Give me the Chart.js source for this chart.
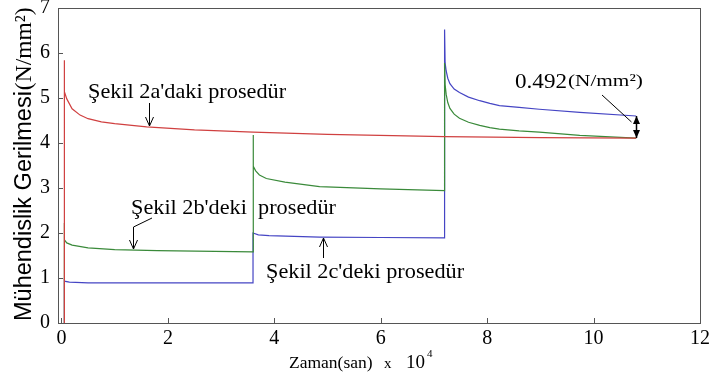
<!DOCTYPE html>
<html>
<head>
<meta charset="utf-8">
<script src="https://cdn.jsdelivr.net/npm/chart.js@4/dist/chart.umd.min.js"></script>
<style>
  body { margin: 0; background: #fff; }
</style>
</head>
<body>
<canvas id="stressChart" width="713" height="383"></canvas>
<script>
// time in units of 10^4 s, stress in N/mm2
const xTicks = [0, 2, 4, 6, 8, 10, 12];
const yTicks = [0, 1, 2, 3, 4, 5, 6, 7];

const timeRed = [0.05, 0.05, 0.06, 0.1, 0.2, 0.35, 0.5, 0.75, 1, 1.6, 2.5, 3.6, 5, 7.2, 9, 10.8];
const stressRed = [0, 5.84, 5.14, 4.98, 4.76, 4.62, 4.54, 4.47, 4.43, 4.36, 4.29, 4.24, 4.19, 4.14, 4.12, 4.11];

const timeGreen = [0.05, 0.05, 0.06, 0.1, 0.2, 0.5, 1, 1.8, 3.6, 3.6, 3.61, 3.65, 3.72, 3.85, 4.2, 4.85, 6, 7.2,
	7.2, 7.21, 7.23, 7.26, 7.3, 7.38, 7.48, 7.65, 7.86, 8.05, 8.23, 8.6, 8.98, 9.74, 10.8];
const stressGreen = [0, 2.22, 1.85, 1.78, 1.73, 1.67, 1.63, 1.61, 1.58, 4.18, 3.48, 3.38, 3.29, 3.21, 3.13, 3.03, 2.98, 2.94,
	5.78, 5.3, 5.08, 4.9, 4.77, 4.64, 4.55, 4.46, 4.39, 4.34, 4.31, 4.27, 4.24, 4.17, 4.11];

const timeBlue = [0.05, 0.05, 0.06, 0.15, 0.5, 1.5, 3.6, 3.6, 3.7, 3.9, 4.85, 6, 7.2,
	7.2, 7.21, 7.23, 7.26, 7.3, 7.38, 7.48, 7.65, 7.86, 8.05, 8.23, 8.6, 8.98, 9.74, 10.8];
const stressBlue = [0, 1.0, 0.93, 0.91, 0.89, 0.89, 0.89, 2.0, 1.96, 1.94, 1.91, 1.9, 1.89,
	6.52, 5.78, 5.6, 5.44, 5.32, 5.2, 5.12, 5.02, 4.94, 4.88, 4.83, 4.79, 4.75, 4.68, 4.6];

const toPoints = (xs, ys) => xs.map((x, i) => ({ x: x, y: ys[i] }));

const serif = "'Liberation Serif', 'Times New Roman', serif";
const sans = "'Liberation Sans', Arial, sans-serif";

// the scanned figure is a little wider than normal type
function wideText(ctx, text, x, y, sx) {
	ctx.save();
	ctx.translate(x, y);
	ctx.scale(sx, 1);
	ctx.fillText(text, 0, 0);
	ctx.restore();
}

function arrowHead(ctx, x, y, dir) {
	// open V head, dir = 1 points down, -1 points up
	ctx.beginPath();
	ctx.moveTo(x - 4, y - 9 * dir);
	ctx.lineTo(x, y);
	ctx.lineTo(x + 4, y - 9 * dir);
	ctx.stroke();
}

const decorations = {
	id: "decorations",
	afterDraw(chart) {
		const ctx = chart.ctx;
		const a = chart.chartArea;
		const xs = chart.scales.x;
		const ys = chart.scales.y;
		ctx.save();

		// frame
		ctx.strokeStyle = "#555";
		ctx.lineWidth = 1;
		ctx.strokeRect(Math.round(a.left) + 0.5, Math.round(a.top) + 0.5, Math.round(a.right - a.left), Math.round(a.bottom - a.top));

		// inward ticks
		ctx.beginPath();
		xTicks.forEach((t) => {
			const px = Math.round(xs.getPixelForValue(t)) + 0.5;
			ctx.moveTo(px, a.bottom);
			ctx.lineTo(px, a.bottom - 5);
		});
		yTicks.forEach((t) => {
			const py = Math.round(ys.getPixelForValue(t)) + 0.5;
			ctx.moveTo(a.left, py);
			ctx.lineTo(a.left + 5, py);
		});
		ctx.stroke();

		ctx.fillStyle = "#000";
		ctx.textBaseline = "alphabetic";
		ctx.textAlign = "left";

		// x axis title
		ctx.font = "17.5px " + serif;
		wideText(ctx, "Zaman(san)", 289, 368, 1.0);
		ctx.font = "15px " + serif;
		ctx.fillText("x", 384, 368);
		ctx.font = "19px " + serif;
		ctx.fillText("10", 406, 368);
		ctx.font = "11px " + serif;
		ctx.fillText("4", 427, 357);

		// y axis title
		ctx.save();
		ctx.translate(31, 321);
		ctx.rotate(-Math.PI / 2);
		ctx.font = "23.5px " + sans;
		const part1 = "Mühendislik Gerilmesi";
		ctx.fillText(part1, 0, 0);
		const w1 = ctx.measureText(part1).width;
		ctx.font = "23.5px " + serif;
		ctx.fillText("(N/mm²)", w1 + 1, 0);
		ctx.restore();

		// annotations
		ctx.font = "21px " + serif;
		wideText(ctx, "Şekil 2a'daki prosedür", 88, 98, 1.06);
		wideText(ctx, "Şekil 2b'deki  prosedür", 131, 214, 1.06);
		wideText(ctx, "Şekil 2c'deki prosedür", 266, 278, 1.06);
		ctx.font = "22px " + serif;
		wideText(ctx, "0.492", 515, 88, 1.05);
		ctx.font = "17px " + serif;
		wideText(ctx, "(N/mm²)", 568, 86, 1.25);

		ctx.strokeStyle = "#000";
		ctx.lineWidth = 1;
		// 2a arrow
		ctx.beginPath();
		ctx.moveTo(149.5, 103);
		ctx.lineTo(149.5, 126);
		ctx.stroke();
		arrowHead(ctx, 149.5, 126, 1);
		// 2b arrow
		ctx.beginPath();
		ctx.moveTo(152, 218);
		ctx.lineTo(133.5, 227);
		ctx.lineTo(133.5, 249);
		ctx.stroke();
		arrowHead(ctx, 133.5, 249, 1);
		// 2c arrow
		ctx.beginPath();
		ctx.moveTo(323.5, 258);
		ctx.lineTo(323.5, 238);
		ctx.stroke();
		arrowHead(ctx, 323.5, 238, -1);

		// 0.492 leader and double arrow
		const xEnd = Math.round(xs.getPixelForValue(10.8)) + 0.5;
		const yTop = ys.getPixelForValue(stressBlue[stressBlue.length - 1]);
		const yBot = ys.getPixelForValue(stressRed[stressRed.length - 1]);
		ctx.beginPath();
		ctx.moveTo(602, 95);
		ctx.lineTo(xEnd - 5, yTop + 6);
		ctx.stroke();
		ctx.lineWidth = 1.5;
		ctx.beginPath();
		ctx.moveTo(xEnd, yTop);
		ctx.lineTo(xEnd, yBot);
		ctx.stroke();
		ctx.beginPath();
		ctx.moveTo(xEnd, yTop);
		ctx.lineTo(xEnd - 3.5, yTop + 8);
		ctx.lineTo(xEnd + 3.5, yTop + 8);
		ctx.closePath();
		ctx.moveTo(xEnd, yBot);
		ctx.lineTo(xEnd - 3.5, yBot - 8);
		ctx.lineTo(xEnd + 3.5, yBot - 8);
		ctx.closePath();
		ctx.fillStyle = "#000";
		ctx.fill();

		ctx.restore();
	},
};

// keep the plot area where the figure has it, ignore label overflow padding
const noOverflow = (s) => {
	s.paddingTop = 0;
	s.paddingBottom = 0;
	s.paddingLeft = 0;
	s.paddingRight = 0;
};

const ctx = document.getElementById("stressChart").getContext("2d");

new Chart(ctx, {
	type: "line",
	data: {
		datasets: [
			{
				label: "Şekil 2a'daki prosedür",
				data: toPoints(timeRed, stressRed),
				borderColor: "#d04040",
			},
			{
				label: "Şekil 2b'deki prosedür",
				data: toPoints(timeGreen, stressGreen),
				borderColor: "#3a8a3a",
			},
			{
				label: "Şekil 2c'deki prosedür",
				data: toPoints(timeBlue, stressBlue),
				borderColor: "#4545c4",
			},
		],
	},
	options: {
		responsive: false,
		animation: false,
		elements: {
			point: { radius: 0 },
			line: { borderWidth: 1.2, tension: 0, fill: false },
		},
		layout: { padding: { left: 0, right: 13, top: 8, bottom: 0 } },
		scales: {
			x: {
				type: "linear",
				min: -0.065,
				max: 12,
				afterBuildTicks: (s) => { s.ticks = xTicks.map((v) => ({ value: v })); },
				afterFit: (s) => { s.height = 60; noOverflow(s); },
				grid: { display: false, drawTicks: false },
				border: { display: false },
				ticks: { color: "#000", padding: 4, maxRotation: 0, font: { family: serif, size: 20 } },
			},
			y: {
				min: 0,
				max: 7,
				afterBuildTicks: (s) => { s.ticks = yTicks.map((v) => ({ value: v })); },
				afterFit: (s) => { s.width = 58; noOverflow(s); },
				grid: { display: false, drawTicks: false },
				border: { display: false },
				ticks: { color: "#000", padding: 8, font: { family: serif, size: 20 } },
			},
		},
		plugins: {
			legend: { display: false },
			tooltip: { enabled: false },
		},
	},
	plugins: [decorations],
});
</script>
</body>
</html>
